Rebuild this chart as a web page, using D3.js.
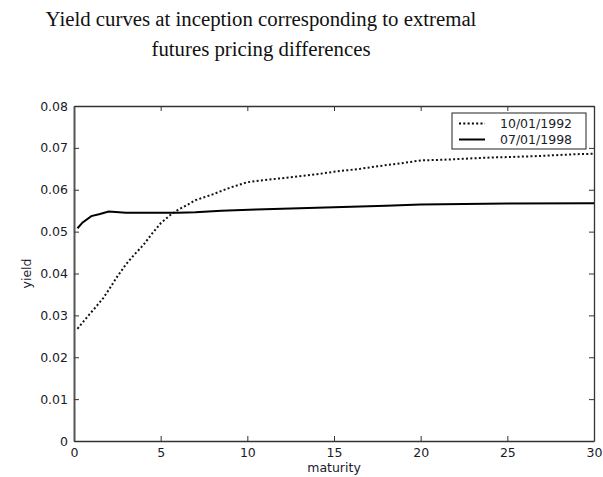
<!DOCTYPE html>
<html>
<head>
<meta charset="utf-8">
<script src="https://cdn.jsdelivr.net/npm/d3@7"></script>
<style>
  html, body { margin: 0; padding: 0; background: #fff; }
  svg { display: block; }
</style>
</head>
<body>
<svg id="chart" width="603" height="477"></svg>
<script>
// Yield curve for 10/01/1992 (maturity in years, yield)
const maturity1992 = [0.2, 0.5, 0.9, 1.3, 1.7, 2.1, 2.5, 3.0, 3.5, 4.0, 4.5, 5.0, 5.5, 6.0, 6.5, 7.0, 8.0, 9.0, 10.0, 11.0, 12.5, 14.0, 15.0, 16.5, 17.5, 19.0, 20.0, 21.5, 22.5, 24.0, 25.0, 26.5, 28.0, 29.0, 30.0];
const yield1992    = [0.0268, 0.0283, 0.0303, 0.0322, 0.0342, 0.0367, 0.0393, 0.0422, 0.0446, 0.0468, 0.0495, 0.0520, 0.0538, 0.0552, 0.0563, 0.0575, 0.0589, 0.0605, 0.0618, 0.0623, 0.0630, 0.0637, 0.0643, 0.0650, 0.0656, 0.0664, 0.0670, 0.0672, 0.0674, 0.0677, 0.0678, 0.0680, 0.0683, 0.0685, 0.0686];

// Yield curve for 07/01/1998
const maturity1998 = [0.2, 0.5, 1.0, 1.5, 2.0, 3.0, 4.0, 5.0, 6.0, 7.0, 8.5, 10.5, 13.0, 15.5, 18.0, 20.0, 25.0, 30.0];
const yield1998    = [0.0508, 0.0522, 0.0537, 0.0542, 0.0548, 0.0545, 0.0545, 0.0545, 0.0545, 0.0546, 0.0550, 0.0553, 0.0556, 0.0559, 0.0562, 0.0565, 0.0567, 0.0568];

const xTicks = [0, 5, 10, 15, 20, 25, 30];
const yTicks = [0, 0.01, 0.02, 0.03, 0.04, 0.05, 0.06, 0.07, 0.08];
const seriesLabels = ["10/01/1992", "07/01/1998"];

const titleLines = ["Yield curves at inception corresponding to extremal", "futures pricing differences"];

const svg = d3.select("#chart");
const margin = { left: 74, top: 106, right: 9, bottom: 36 };
const W = 603, H = 477;
const x0 = margin.left, x1 = W - margin.right;
const y0 = H - margin.bottom, y1 = margin.top;

const x = d3.scaleLinear().domain([0, 30]).range([x0, x1]);
const y = d3.scaleLinear().domain([0, 0.08]).range([y0, y1]);

// title
svg.append("g").selectAll("text").data(titleLines).join("text")
  .attr("x", 261).attr("y", (d, i) => 26 + i * 30)
  .attr("text-anchor", "middle")
  .attr("font-family", "'Liberation Serif', 'DejaVu Serif', serif")
  .attr("font-size", 20.8)
  .attr("fill", "#111")
  .text(d => d);

// axes (ticks pointing inward, box style)
const tickFont = "'DejaVu Sans', sans-serif";
const fontSize = 12.5;
const textColor = "#1a1a2a";
const axB = svg.append("g").attr("transform", `translate(0,${y0})`)
  .call(d3.axisBottom(x).tickValues(xTicks).tickFormat(d3.format("d")).tickSizeInner(-5).tickSizeOuter(0).tickPadding(7));
const axT = svg.append("g").attr("transform", `translate(0,${y1})`)
  .call(d3.axisTop(x).tickValues(xTicks).tickFormat("").tickSizeInner(-5).tickSizeOuter(0));
const axL = svg.append("g").attr("transform", `translate(${x0},0)`)
  .call(d3.axisLeft(y).tickValues(yTicks).tickFormat(d => d === 0 ? "0" : d3.format(".2f")(d)).tickSizeInner(-5).tickSizeOuter(0).tickPadding(6));
const axR = svg.append("g").attr("transform", `translate(${x1},0)`)
  .call(d3.axisRight(y).tickValues(yTicks).tickFormat("").tickSizeInner(-5).tickSizeOuter(0));

[axB, axT, axL, axR].forEach(g => {
  g.select(".domain").attr("stroke", "#333").attr("stroke-width", 1.3);
  g.selectAll(".tick line").attr("stroke", "#333");
  g.selectAll("text").attr("font-family", tickFont).attr("font-size", fontSize).attr("fill", textColor);
});
axB.selectAll("text").attr("dy", "0.71em");
axL.select(".domain").attr("stroke", "#555").attr("stroke-width", 2);

// axis labels
svg.append("text").attr("x", (x0 + x1) / 2).attr("y", 472)
  .attr("text-anchor", "middle").attr("font-family", tickFont).attr("font-size", fontSize).attr("fill", textColor)
  .text("maturity");
svg.append("text").attr("transform", `translate(31,${(y0 + y1) / 2}) rotate(-90)`)
  .attr("text-anchor", "middle").attr("font-family", tickFont).attr("font-size", fontSize).attr("fill", textColor)
  .text("yield");

// curves
const line = d3.line().x(d => x(d[0])).y(d => y(d[1]));
const data1992 = d3.zip(maturity1992, yield1992);
const data1998 = d3.zip(maturity1998, yield1998);

svg.append("path").datum(data1992)
  .attr("fill", "none").attr("stroke", "#111").attr("stroke-width", 2)
  .attr("stroke-dasharray", "2,2.3")
  .attr("d", line);
svg.append("path").datum(data1998)
  .attr("fill", "none").attr("stroke", "#000").attr("stroke-width", 2)
  .attr("d", line);

// legend
const lg = svg.append("g").attr("transform", "translate(452,113)");
lg.append("rect").attr("width", 134).attr("height", 36)
  .attr("fill", "#fff").attr("stroke", "#222").attr("stroke-width", 1);
const styles = [{ dash: "2,2.3" }, { dash: null }];
seriesLabels.forEach((lab, i) => {
  const yy = 10.5 + i * 16;
  lg.append("line").attr("x1", 7).attr("x2", 33).attr("y1", yy).attr("y2", yy)
    .attr("stroke", "#000").attr("stroke-width", 2)
    .attr("stroke-dasharray", styles[i].dash);
  lg.append("text").attr("x", 48).attr("y", yy).attr("dy", "0.36em")
    .attr("font-family", tickFont).attr("font-size", fontSize).attr("fill", textColor)
    .text(lab);
});
</script>
</body>
</html>
